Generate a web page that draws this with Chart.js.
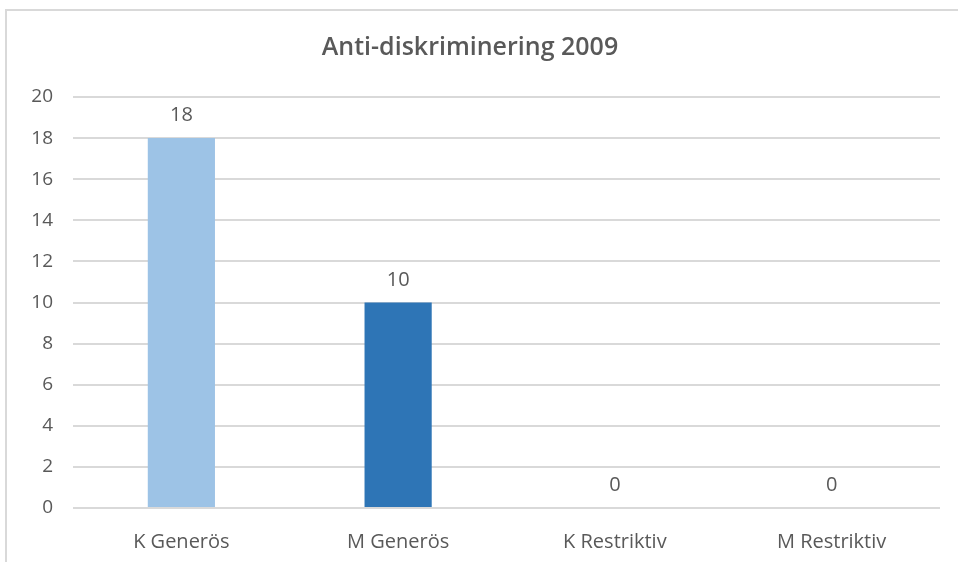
<!DOCTYPE html>
<html lang="sv">
  <head>
    <meta charset="UTF-8" />
    <title>Anti-diskriminering 2009</title>
    <script src="https://cdn.jsdelivr.net/npm/chart.js@4.4.1/dist/chart.umd.min.js"></script>
    <style>
      html, body { margin: 0; padding: 0; background: #fff; overflow: hidden; }
      #frame {
        position: absolute; left: 5px; top: 9px; width: 960px; height: 560px;
        border-left: 2px solid #d9d9d9; border-top: 2px solid #d9d9d9;
      }
      #wrap { position: absolute; left: 0; top: 0; width: 958px; height: 562px; }
    </style>
  </head>
  <body>
    <div id="frame"></div>
    <div id="wrap"><canvas id="chart"></canvas></div>

    <script>
      const categories = ["K Generös", "M Generös", "K Restriktiv", "M Restriktiv"];
      const values = [18, 10, 0, 0];
      const barColors = ["#9dc3e6", "#2e75b6", "#9dc3e6", "#2e75b6"];
      const yTicks = [0, 2, 4, 6, 8, 10, 12, 14, 16, 18, 20];

      const fontFamily = "'Open Sans', 'Noto Sans', sans-serif";
      const textColor = "#595959";

      // write the value above each bar
      const valueLabels = {
        id: "valueLabels",
        afterDatasetsDraw(chart) {
          const ctx = chart.ctx;
          const meta = chart.getDatasetMeta(0);
          ctx.save();
          ctx.fillStyle = textColor;
          ctx.font = "20px " + fontFamily;
          ctx.textAlign = "center";
          ctx.textBaseline = "alphabetic";
          meta.data.forEach((bar, i) => {
            ctx.fillText(String(values[i]), bar.x, bar.y - 17);
          });
          ctx.restore();
        },
      };

      new Chart(document.getElementById("chart"), {
        type: "bar",
        data: {
          labels: categories,
          datasets: [
            {
              data: values,
              backgroundColor: barColors,
              barPercentage: 0.31,
              categoryPercentage: 1,
            },
          ],
        },
        options: {
          responsive: true,
          maintainAspectRatio: false,
          animation: false,
          layout: { padding: { left: 0, right: 18, top: 33, bottom: 0 } },
          plugins: {
            legend: { display: false },
            tooltip: { enabled: false },
            title: {
              display: true,
              text: "Anti-diskriminering 2009",
              color: textColor,
              font: { family: fontFamily, size: 25, weight: "600" },
              padding: { top: 0, bottom: 34 },
            },
          },
          scales: {
            x: {
              grid: { display: false },
              border: { display: false },
              afterFit: (axis) => { axis.height = 54; },
              ticks: {
                color: textColor,
                font: { family: fontFamily, size: 20 },
                padding: 14,
              },
            },
            y: {
              min: 0,
              max: 20,
              afterBuildTicks: (axis) => {
                axis.ticks = yTicks.map((v) => ({ value: v }));
              },
              afterFit: (axis) => { axis.width = 73; },
              grid: { color: "#d9d9d9", lineWidth: 2, drawTicks: false },
              border: { display: false },
              ticks: {
                color: textColor,
                font: { family: fontFamily, size: 19 },
                padding: 20,
              },
            },
          },
        },
        plugins: [valueLabels],
      });
    </script>
  </body>
</html>
